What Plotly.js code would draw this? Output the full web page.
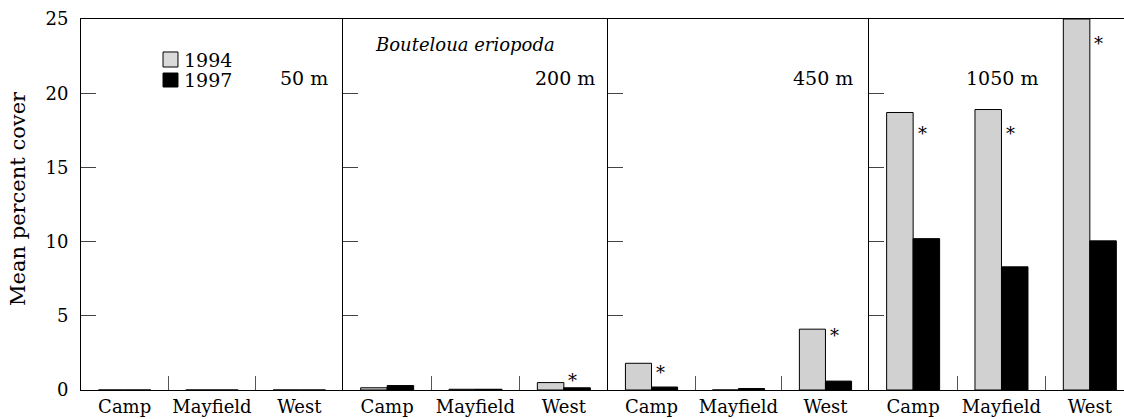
<!DOCTYPE html>
<html>
<head>
<meta charset="utf-8">
<script src="https://cdn.plot.ly/plotly-3.0.1.min.js"></script>
<style>html,body{margin:0;padding:0;overflow:hidden;background:#fff;}</style>
</head>
<body>
<div id="chart"></div>
<script>
// ---- data ----
const categories = ["Camp", "Mayfield", "West"];
const panelLabels = ["50 m", "200 m", "450 m", "1050 m"];
const speciesLabel = "Bouteloua eriopoda";
const yTitle = "Mean percent cover";
const seriesNames = ["1994", "1997"];
const cover1994 = [
  [0, 0, 0],        // 50 m
  [0.15, 0.05, 0.5],// 200 m
  [1.8, 0, 4.1],    // 450 m
  [18.7, 18.9, 25]  // 1050 m
];
const cover1997 = [
  [0, 0, 0],
  [0.3, 0.05, 0.15],
  [0.2, 0.1, 0.6],
  [10.2, 8.3, 10.05]
];
// significance markers: panel index, category, y position of asterisk
const starPanel = [1, 2, 2, 3, 3, 3];
const starCat = ["West", "Camp", "West", "Camp", "Mayfield", "West"];
const starY = [1.0, 1.55, 4.0, 17.6, 17.6, 23.7];
const yTicks = [0, 5, 10, 15, 20, 25];

// ---- layout helpers ----
const FONT = "DejaVu Serif, Liberation Serif, serif";
const FS = 18;
const domains = [[0, 0.2488], [0.2488, 0.5005], [0.5005, 0.7483], [0.7483, 1]];
const labelX = [0.950, 0.958, 0.946, 0.645];
const fill1994 = "#dadada";
const pattern1994 = {shape: ".", fgcolor: "#a8a8a8", bgcolor: "#e8e8e8", size: 2, solidity: 0.35};

const traces = [];
const layout = {
  width: 1134, height: 419,
  margin: {l: 81, r: 0, t: 19, b: 29},
  paper_bgcolor: "#fff", plot_bgcolor: "#fff",
  barmode: "group", bargap: 0.4, bargroupgap: 0,
  font: {family: FONT, size: FS, color: "#000"},
  showlegend: false,
  annotations: [], shapes: []
};

for (let p = 0; p < 4; p++) {
  const xa = p === 0 ? "x" : "x" + (p + 1);
  const ya = p === 0 ? "y" : "y" + (p + 1);
  traces.push({
    type: "bar", name: seriesNames[0], x: categories, y: cover1994[p],
    xaxis: xa, yaxis: ya,
    marker: {color: fill1994, line: {color: "#000", width: 1}, pattern: pattern1994},
    hoverinfo: "skip"
  });
  traces.push({
    type: "bar", name: seriesNames[1], x: categories, y: cover1997[p],
    xaxis: xa, yaxis: ya,
    marker: {color: "#000", line: {color: "#000", width: 1}},
    hoverinfo: "skip"
  });
  const xKey = p === 0 ? "xaxis" : "xaxis" + (p + 1);
  const yKey = p === 0 ? "yaxis" : "yaxis" + (p + 1);
  layout[xKey] = {
    domain: domains[p], anchor: ya, type: "category",
    showline: true, linecolor: "#000", linewidth: 1, mirror: true,
    ticks: "inside", ticklen: 14, tickcolor: "#555", tickwidth: 1,
    tickson: "boundaries", showgrid: false, zeroline: false,
    tickangle: 0, automargin: false,
    tickfont: {family: FONT, size: FS, color: "#000"},
    ticklabelstandoff: 0, fixedrange: true
  };
  layout[yKey] = {
    domain: [0, 1], anchor: xa, range: [0, 25], tickvals: yTicks,
    showline: true, linecolor: "#000", linewidth: 1,
    ticks: "inside", ticklen: 15, tickcolor: "#444", tickwidth: 1,
    showgrid: false, zeroline: false, showticklabels: p === 0,
    tickfont: {family: FONT, size: FS, color: "#000"},
    ticklabelstandoff: 8, fixedrange: true
  };
  layout.annotations.push({
    text: panelLabels[p], xref: xa + " domain", yref: "paper",
    x: labelX[p], y: 0.841, xanchor: "right", yanchor: "middle",
    showarrow: false, font: {family: FONT, size: FS + 1, color: "#000"}
  });
}

// y-axis title
layout.annotations.push({
  text: yTitle, xref: "paper", yref: "paper", x: -0.0598, y: 0.515,
  xanchor: "center", yanchor: "middle", textangle: -90, showarrow: false,
  font: {family: FONT, size: 21, color: "#000"}
});

layout.annotations.push({
  text: "<i>" + speciesLabel + "</i>", xref: "x2 domain", yref: "paper",
  x: 0.113, y: 0.93, xanchor: "left", yanchor: "middle", showarrow: false,
  font: {family: FONT, size: FS, color: "#000"}
});

for (let i = 0; i < starY.length; i++) {
  const p = starPanel[i];
  layout.annotations.push({
    text: "*", xref: "x" + (p + 1), yref: "y" + (p + 1),
    x: starCat[i], y: starY[i], xshift: 9, yshift: -5,
    xanchor: "center", yanchor: "middle", showarrow: false,
    font: {family: FONT, size: FS, color: "#000"}
  });
}

// legend (drawn in panel 1)
const legSquares = [[0.0779, 0.0921, 0.8706, 0.9111], [0.0779, 0.0921, 0.8167, 0.8544]];
const legColors = [fill1994, "#000"];
const legTextY = [0.8895, 0.8356];
for (let i = 0; i < 2; i++) {
  const s = legSquares[i];
  layout.shapes.push({type: "rect", xref: "paper", yref: "paper",
    x0: s[0], x1: s[1], y0: s[2], y1: s[3],
    fillcolor: legColors[i], line: {color: "#000", width: 1}});
  layout.annotations.push({
    text: seriesNames[i], xref: "paper", yref: "paper", x: 0.0955, y: legTextY[i],
    xanchor: "left", yanchor: "middle", showarrow: false,
    font: {family: FONT, size: FS + 1, color: "#000"}
  });
}

Plotly.newPlot("chart", traces, layout, {displayModeBar: false, staticPlot: true});
</script>
</body>
</html>
